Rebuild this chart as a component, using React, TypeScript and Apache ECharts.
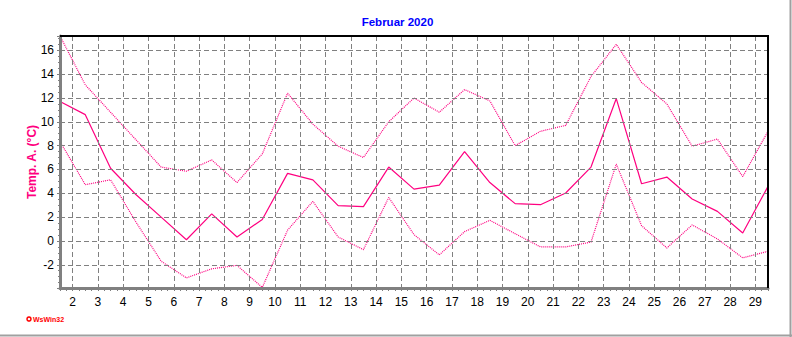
import React, { useEffect, useRef } from "react";
import * as echarts from "echarts";

// Day positions (daily values plotted at mid-day)
const dayPositions = [
  1.5, 2.5, 3.5, 4.5, 5.5, 6.5, 7.5, 8.5, 9.5, 10.5, 11.5, 12.5, 13.5, 14.5, 15.5,
  16.5, 17.5, 18.5, 19.5, 20.5, 21.5, 22.5, 23.5, 24.5, 25.5, 26.5, 27.5, 28.5, 29.5,
];

const tempMax = [
  17.2, 13.1, 10.8, 8.5, 6.2, 5.85, 6.8, 4.9, 7.3, 12.4, 9.8, 7.95, 7.0, 10.0, 12.0,
  10.8, 12.7, 11.75, 8.0, 9.2, 9.7, 13.8, 16.5, 13.3, 11.5, 7.95, 8.55, 5.4, 9.2,
];

const tempMean = [
  11.7, 10.6, 6.1, 3.9, 2.0, 0.1, 2.27, 0.33, 1.8, 5.67, 5.13, 2.96, 2.88, 6.2, 4.35,
  4.69, 7.5, 4.9, 3.13, 3.04, 4.02, 6.2, 11.95, 4.8, 5.36, 3.52, 2.48, 0.67, 4.58,
];

const tempMin = [
  8.34, 4.72, 5.13, 1.6, -1.7, -3.1, -2.34, -2.05, -3.9, 0.9, 3.32, 0.33, -0.73, 3.65, 0.53,
  -1.17, 0.78, 1.73, 0.61, -0.5, -0.5, -0.1, 6.45, 1.28, -0.59, 1.34, 0.17, -1.42, -0.87,
];

const titleText = "Februar 2020";
const yAxisName = "Temp. A. (°C)";
const footerText = "WsWin32";

const FONT = "'Liberation Sans', Arial, sans-serif";
const LINE_COLOR = "#ff0080";
const GRID_COLOR = "#808080";

export default function App() {
  const ref = useRef<HTMLDivElement>(null);

  useEffect(() => {
    if (!ref.current) return;
    const chart = echarts.init(ref.current, undefined, { renderer: "svg" });

    const toPairs = (vals: number[]) => dayPositions.map((x, i) => [x, vals[i]]);

    chart.setOption({
      animation: false,
      backgroundColor: "#ffffff",
      grid: {
        left: 60,
        right: 24,
        top: 36,
        bottom: 49,
        show: false,
      },
      xAxis: {
        type: "value",
        min: 1.5,
        max: 29.5,
        splitNumber: 28,
        minInterval: 1,
        maxInterval: 1,
        z: 5,
        axisLine: { show: true, onZero: false, lineStyle: { color: GRID_COLOR, width: 3 } },
        axisTick: { show: true, length: 3, lineStyle: { color: GRID_COLOR, width: 1 } },
        minorTick: { show: true, splitNumber: 4, length: 3, lineStyle: { color: GRID_COLOR, width: 1 } },
        axisLabel: {
          showMinLabel: false,
          showMaxLabel: false,
          color: "#000000",
          fontSize: 12,
          fontFamily: FONT,
          margin: 8,
        },
        splitLine: { show: true, lineStyle: { color: GRID_COLOR, width: 1, type: [5, 3] } },
      },
      yAxis: {
        type: "value",
        min: -3.95,
        max: 17.2,
        splitNumber: 10,
        minInterval: 2,
        maxInterval: 2,
        z: 5,
        axisLine: { show: true, onZero: false, lineStyle: { color: GRID_COLOR, width: 3 } },
        axisTick: { show: true, length: 3, lineStyle: { color: GRID_COLOR, width: 1 } },
        minorTick: { show: true, splitNumber: 4, length: 2, lineStyle: { color: GRID_COLOR, width: 1 } },
        axisLabel: {
          showMinLabel: false,
          showMaxLabel: false,
          color: "#000000",
          fontSize: 12,
          fontFamily: FONT,
          margin: 6,
        },
        splitLine: { show: true, lineStyle: { color: GRID_COLOR, width: 1, type: [5, 3] } },
      },
      series: [
        {
          name: "Max",
          type: "line",
          data: toPairs(tempMax),
          symbol: "none",
          lineStyle: { color: LINE_COLOR, width: 1.2, type: [1, 1] },
          itemStyle: { color: LINE_COLOR },
        },
        {
          name: "Mittel",
          type: "line",
          data: toPairs(tempMean),
          symbol: "none",
          lineStyle: { color: LINE_COLOR, width: 1.2, type: "solid" },
          itemStyle: { color: LINE_COLOR },
        },
        {
          name: "Min",
          type: "line",
          data: toPairs(tempMin),
          symbol: "none",
          lineStyle: { color: LINE_COLOR, width: 1.2, type: [1, 1] },
          itemStyle: { color: LINE_COLOR },
        },
      ],
      graphic: [
        {
          type: "line",
          z: 100,
          shape: { x1: 60, y1: 36, x2: 769, y2: 36 },
          style: { stroke: "#000000", lineWidth: 2 },
        },
        {
          type: "line",
          z: 100,
          shape: { x1: 768, y1: 36, x2: 768, y2: 288 },
          style: { stroke: "#000000", lineWidth: 2 },
        },
        {
          type: "text",
          x: 397.5,
          y: 22,
          style: {
            text: titleText,
            align: "center",
            verticalAlign: "middle",
            fill: "#0000ff",
            fontSize: 11.5,
            fontWeight: "bold",
            fontFamily: FONT,
          },
        },
        {
          type: "text",
          x: 32,
          y: 162,
          rotation: Math.PI / 2,
          style: {
            text: yAxisName,
            align: "center",
            verticalAlign: "middle",
            fill: LINE_COLOR,
            fontSize: 12,
            fontWeight: "bold",
            fontFamily: FONT,
          },
        },
        {
          type: "circle",
          shape: { cx: 29, cy: 319, r: 2 },
          style: { fill: "#ffffff", stroke: "#ff0000", lineWidth: 1.5 },
        },
        {
          type: "text",
          x: 33,
          y: 319,
          style: {
            text: footerText,
            align: "left",
            verticalAlign: "middle",
            fill: "#ff0000",
            fontSize: 7,
            fontWeight: "bold",
            fontFamily: FONT,
          },
        },
        {
          type: "line",
          shape: { x1: 790.5, y1: 0, x2: 790.5, y2: 337 },
          style: { stroke: "#a0a0a0", lineWidth: 2 },
        },
        {
          type: "line",
          shape: { x1: 0, y1: 335.5, x2: 792, y2: 335.5 },
          style: { stroke: "#a0a0a0", lineWidth: 2 },
        },
      ],
    });

    return () => {
      chart.dispose();
    };
  }, []);

  return (
    <div
      ref={ref}
      style={{ position: "fixed", left: 0, top: 0, width: 792, height: 337 }}
    />
  );
}
